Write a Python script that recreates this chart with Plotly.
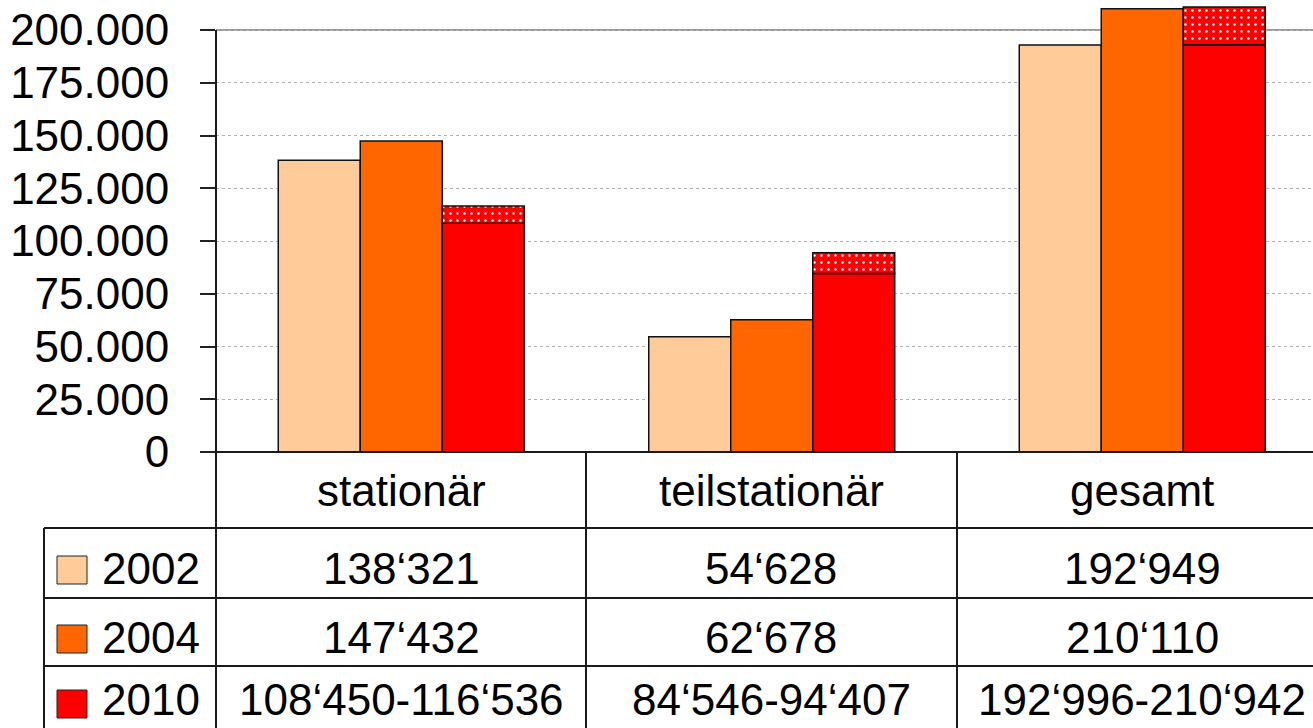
import plotly.graph_objects as go

# Data: number of places per care type and year (2010 as a range)
categories = ["stationär", "teilstationär", "gesamt"]
years = ["2002", "2004", "2010"]
values_2002 = [138321, 54628, 192949]
values_2004 = [147432, 62678, 210110]
low_2010 = [108450, 84546, 192996]
high_2010 = [116536, 94407, 210942]
y_ticks = [0, 25000, 50000, 75000, 100000, 125000, 150000, 175000, 200000]

colors = ["#FFCC99", "#FF6600", "#FF0000"]

FONT = "Liberation Sans, Arial, sans-serif"
W, H = 1313, 728
L, B_PX = 216, 452          # left edge of plot area, pixel row of the zero line
PX_PER_UNIT = 422 / 200000  # vertical scale
Y_TOP = B_PX / PX_PER_UNIT  # value at the top of the figure


def fmt(v):
    return f"{v:,}".replace(",", "\u2018")


def px_x(px):
    return (px - L) / (W - L)


def px_y(py):
    return (B_PX - py) / B_PX


bar_w = 0.2213
offsets = [-bar_w, 0.0, bar_w]
idx = list(range(len(categories)))
line = dict(color="#111111", width=1.5)

fig = go.Figure()
fig.add_trace(go.Bar(x=[i + offsets[0] for i in idx], y=values_2002, width=bar_w,
                     marker=dict(color=colors[0], line=line), name=years[0]))
fig.add_trace(go.Bar(x=[i + offsets[1] for i in idx], y=values_2004, width=bar_w,
                     marker=dict(color=colors[1], line=line), name=years[1]))
fig.add_trace(go.Bar(x=[i + offsets[2] for i in idx], y=low_2010, width=bar_w,
                     marker=dict(color=colors[2], line=line), name=years[2]))
fig.add_trace(go.Bar(x=[i + offsets[2] for i in idx],
                     y=[h - l for h, l in zip(high_2010, low_2010)], base=low_2010,
                     width=bar_w,
                     marker=dict(color=colors[2], line=line,
                                 pattern=dict(shape=".", fgcolor="white", bgcolor=colors[2],
                                              size=7, solidity=0.1, fillmode="replace")),
                     name=years[2] + " (Spanne)"))

fig.update_layout(
    width=W, height=H, autosize=False,
    margin=dict(l=L, r=0, t=0, b=H - B_PX, pad=0),
    barmode="overlay", showlegend=False,
    plot_bgcolor="white", paper_bgcolor="white",
    separators=",.",
    font=dict(family=FONT, size=44, color="black"),
)
fig.update_xaxes(range=[-0.5, -0.5 + (W - L) / 370.5], showticklabels=False, ticks="",
                 showgrid=False, zeroline=False, showline=False, fixedrange=True)
fig.update_yaxes(range=[0, Y_TOP], tickvals=y_ticks, tickformat=",d",
                 ticks="outside", ticklen=15, tickwidth=2, tickcolor="#222222",
                 ticklabelstandoff=22,
                 showgrid=True, gridcolor="#b0b0b0", griddash="dot", gridwidth=1,
                 zeroline=False, showline=False, fixedrange=True,
                 tickfont=dict(family=FONT, size=44, color="black"))

shapes = []
# solid top border at the maximum tick
shapes.append(dict(type="line", xref="paper", yref="y", x0=0, x1=1, y0=y_ticks[-1], y1=y_ticks[-1],
                   line=dict(color="#9a9a9a", width=2), layer="below"))
tbl = dict(color="#1a1a1a", width=2)
# value axis line continuing as the table's first column border
shapes.append(dict(type="line", xref="paper", yref="paper", x0=0, x1=0,
                   y0=px_y(30), y1=px_y(H + 5), line=tbl))
# zero line / table top
shapes.append(dict(type="line", xref="paper", yref="paper", x0=0, x1=1,
                   y0=0, y1=0, line=tbl))
# column borders
for cx in [586, 957]:
    shapes.append(dict(type="line", xref="paper", yref="paper", x0=px_x(cx), x1=px_x(cx),
                       y0=0, y1=px_y(H + 5), line=tbl))
# legend column left border
shapes.append(dict(type="line", xref="paper", yref="paper", x0=px_x(44), x1=px_x(44),
                   y0=px_y(528), y1=px_y(H + 5), line=tbl))
# row borders
for ry in [528, 598, 666]:
    shapes.append(dict(type="line", xref="paper", yref="paper", x0=px_x(44), x1=1,
                       y0=px_y(ry), y1=px_y(ry), line=tbl))

row_centers = [568, 637, 699]
col_centers = [401, 771, 1142]
# legend swatches
swatch_centers = [570, 639, 704]
for k, c in enumerate(colors):
    cy = swatch_centers[k]
    shapes.append(dict(type="rect", xref="paper", yref="paper",
                       x0=px_x(57), x1=px_x(87), y0=px_y(cy - 14), y1=px_y(cy + 14),
                       fillcolor=c, line=dict(color="#222222", width=1)))

annotations = []
for j, cat in enumerate(categories):
    annotations.append(dict(text=cat, xref="paper", yref="paper", x=px_x(col_centers[j]),
                            y=px_y(490), xanchor="center", yanchor="middle", showarrow=False))

rows = [
    [fmt(v) for v in values_2002],
    [fmt(v) for v in values_2004],
    [fmt(l) + "-" + fmt(h) for l, h in zip(low_2010, high_2010)],
]
for k, row in enumerate(rows):
    annotations.append(dict(text=years[k], xref="paper", yref="paper", x=px_x(100),
                            y=px_y(row_centers[k]), xanchor="left", yanchor="middle",
                            showarrow=False))
    for j, txt in enumerate(row):
        annotations.append(dict(text=txt, xref="paper", yref="paper", x=px_x(col_centers[j]),
                                y=px_y(row_centers[k]), xanchor="center", yanchor="middle",
                                showarrow=False))

fig.update_layout(shapes=shapes, annotations=annotations)
fig.write_html("out.html")
